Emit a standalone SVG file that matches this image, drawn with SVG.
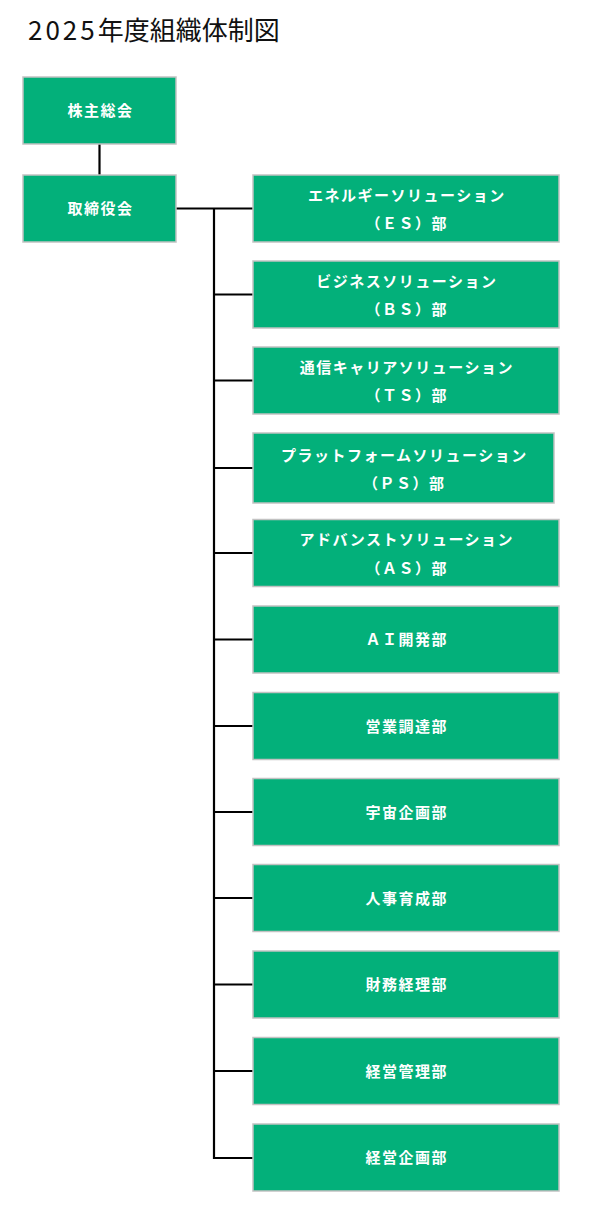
<svg xmlns="http://www.w3.org/2000/svg" width="600" height="1207" viewBox="0 0 600 1207">
<style>
.box{fill:#03B07A;stroke:#c2c2c2;stroke-width:1.5}
.lbl{fill:#ffffff;font-family:"Noto Sans CJK JP","Noto Sans",sans-serif;font-weight:bold;font-size:15px;letter-spacing:1.5px;text-anchor:middle}
.ttl{fill:#111111;font-family:"Noto Sans CJK JP","Noto Sans",sans-serif;font-size:26px}
.ln{fill:none;stroke:#000000;stroke-width:2.2}
</style>
<rect width="600" height="1207" fill="#ffffff"/>
<text class="ttl" x="28" y="39.5"><tspan letter-spacing="3">2025</tspan>年度組織体制図</text>
<g id="connectors">
<line class="ln" x1="99.5" y1="144" x2="99.5" y2="175"/>
<line class="ln" x1="176" y1="208.5" x2="253" y2="208.5"/>
<path class="ln" d="M214 208.5 V1158 H253"/>
<line class="ln" x1="214" y1="294.5" x2="253" y2="294.5"/>
<line class="ln" x1="214" y1="380.5" x2="253" y2="380.5"/>
<line class="ln" x1="214" y1="468" x2="253" y2="468"/>
<line class="ln" x1="214" y1="553" x2="253" y2="553"/>
<line class="ln" x1="214" y1="639.5" x2="253" y2="639.5"/>
<line class="ln" x1="214" y1="726" x2="253" y2="726"/>
<line class="ln" x1="214" y1="812" x2="253" y2="812"/>
<line class="ln" x1="214" y1="898" x2="253" y2="898"/>
<line class="ln" x1="214" y1="984.5" x2="253" y2="984.5"/>
<line class="ln" x1="214" y1="1071" x2="253" y2="1071"/>
</g>
<g id="n-shareholders"><rect class="box" x="23" y="77" width="153" height="67"/><text class="lbl" x="100.5" y="116">株主総会</text></g>
<g id="n-board"><rect class="box" x="23" y="175" width="153" height="67"/><text class="lbl" x="100.5" y="214">取締役会</text></g>
<g id="n-es"><rect class="box" x="253" y="175" width="306" height="67"/><text class="lbl" x="406.8" y="200.5">エネルギーソリューション</text><text class="lbl" x="406.8" y="229">（ＥＳ）部</text></g>
<g id="n-bs"><rect class="box" x="253" y="261" width="306" height="67"/><text class="lbl" x="406.8" y="286.5">ビジネスソリューション</text><text class="lbl" x="406.8" y="315">（ＢＳ）部</text></g>
<g id="n-ts"><rect class="box" x="253" y="347" width="306" height="67"/><text class="lbl" x="406.8" y="372.5">通信キャリアソリューション</text><text class="lbl" x="406.8" y="401">（ＴＳ）部</text></g>
<g id="n-ps"><rect class="box" x="253" y="433" width="301" height="70"/><text class="lbl" x="404.3" y="461">プラットフォームソリューション</text><text class="lbl" x="404.3" y="489">（ＰＳ）部</text></g>
<g id="n-as"><rect class="box" x="253" y="519.5" width="306" height="67"/><text class="lbl" x="406.8" y="545">アドバンストソリューション</text><text class="lbl" x="406.8" y="573.5">（ＡＳ）部</text></g>
<g id="n-ai"><rect class="box" x="253" y="606" width="306" height="67"/><text class="lbl" x="406.8" y="645">ＡＩ開発部</text></g>
<g id="n-sales"><rect class="box" x="253" y="692.5" width="306" height="67"/><text class="lbl" x="406.8" y="731.5">営業調達部</text></g>
<g id="n-space"><rect class="box" x="253" y="778.5" width="306" height="67"/><text class="lbl" x="406.8" y="817.5">宇宙企画部</text></g>
<g id="n-hr"><rect class="box" x="253" y="864.5" width="306" height="67"/><text class="lbl" x="406.8" y="903.5">人事育成部</text></g>
<g id="n-finance"><rect class="box" x="253" y="951" width="306" height="67"/><text class="lbl" x="406.8" y="990">財務経理部</text></g>
<g id="n-mgmt"><rect class="box" x="253" y="1037.5" width="306" height="67"/><text class="lbl" x="406.8" y="1076.5">経営管理部</text></g>
<g id="n-plan"><rect class="box" x="253" y="1124" width="306" height="67"/><text class="lbl" x="406.8" y="1163">経営企画部</text></g>
</svg>
